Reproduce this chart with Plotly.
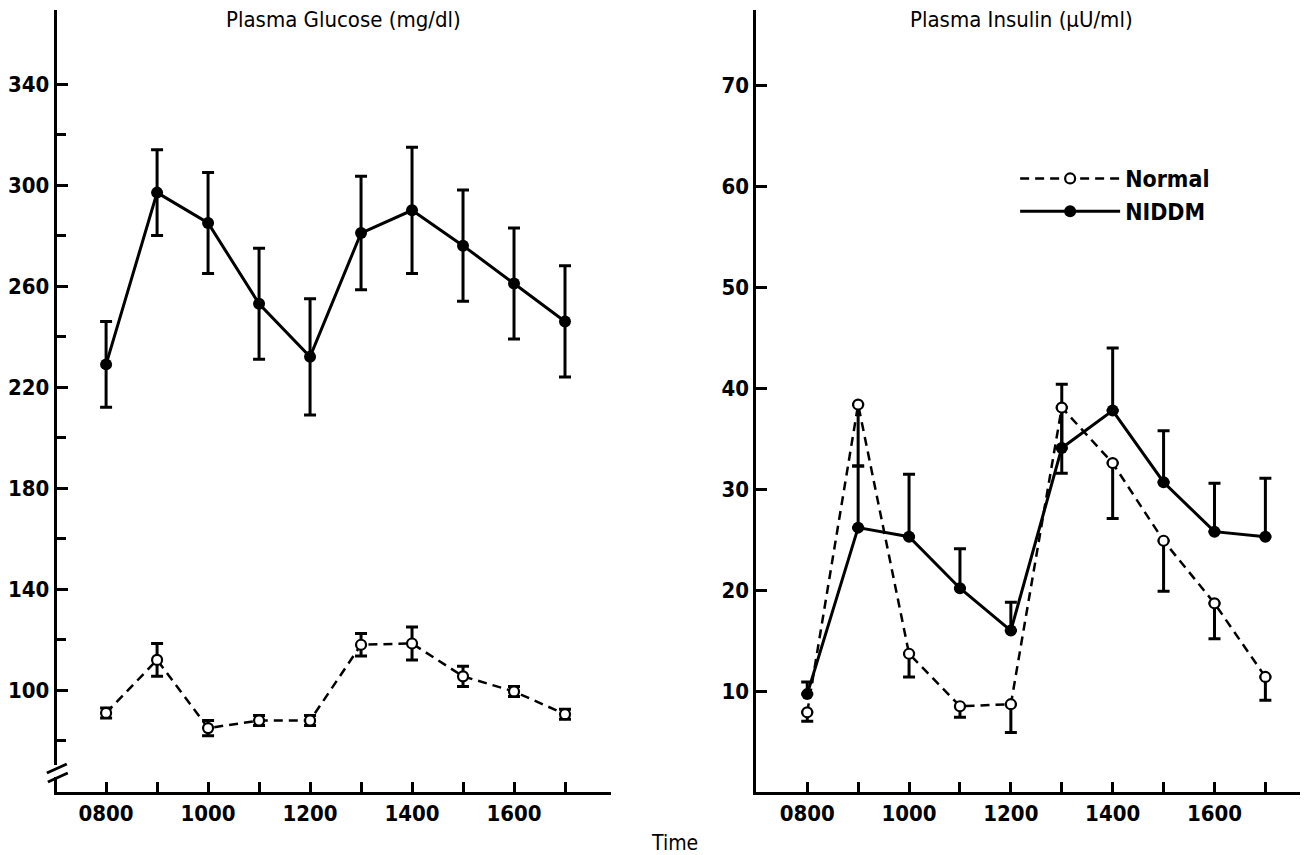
import plotly.graph_objects as go

# ---- data ----
times = [800, 900, 1000, 1100, 1200, 1300, 1400, 1500, 1600, 1700]
tick_hours = [800, 900, 1000, 1100, 1200, 1300, 1400, 1500, 1600, 1700]
tick_text = ["0800", "", "1000", "", "1200", "", "1400", "", "1600", ""]

glucose_niddm = [229, 297, 285, 253, 232, 281, 290, 276, 261, 246]
glucose_niddm_se = [17, 17, 20, 22, 23, 22.5, 25, 22, 22, 22]
glucose_normal = [91, 112, 85, 88, 88, 118, 118.5, 105.5, 99.5, 90.5]
glucose_normal_se = [2, 6.5, 3, 2, 2, 4.5, 6.5, 4, 2, 2]

insulin_normal = [7.9, 38.4, 13.7, 8.5, 8.7, 38.1, 32.6, 24.9, 18.7, 11.4]
insulin_normal_se = [0.9, 6.1, 2.3, 1.1, 2.8, 6.5, 5.5, 5.0, 3.5, 2.3]
insulin_niddm = [9.7, 26.2, 25.3, 20.2, 16.0, 34.1, 37.8, 30.7, 25.8, 25.3]
insulin_niddm_se = [1.2, 6.1, 6.2, 3.9, 2.8, 6.3, 6.2, 5.1, 4.8, 5.8]

glucose_ticks = [100, 140, 180, 220, 260, 300, 340]
glucose_minor = [80, 120, 160, 200, 240, 280, 320]
insulin_ticks = [10, 20, 30, 40, 50, 60, 70]

FONT = "Liberation Sans Narrow, Arial Narrow, DejaVu Sans Condensed, Liberation Sans, sans-serif"
# page body has an 8px default margin; lay out in screen pixels and shift
OFF = 8
W, H = 1308 - OFF, 855 - OFF


def px(x):
    return (x - OFF) / W


def py(y):
    return 1 - (y - OFF) / H


zeros = [0] * len(times)

fig = go.Figure()


def err(arr, arrm, sym):
    d = dict(type="data", array=arr, thickness=3, width=6, color="black", visible=True)
    if sym:
        d["symmetric"] = True
    else:
        d["symmetric"] = False
        d["arrayminus"] = arrm
    return d


# Glucose panel
fig.add_trace(go.Scatter(
    x=times, y=glucose_niddm, mode="lines+markers", name="NIDDM", showlegend=False,
    line=dict(color="black", width=3),
    marker=dict(symbol="circle", size=12, color="black"),
    error_y=err(glucose_niddm_se, None, True), xaxis="x", yaxis="y"))
fig.add_trace(go.Scatter(
    x=times, y=glucose_normal, mode="lines+markers", name="Normal", showlegend=False,
    line=dict(color="black", width=2.5, dash="9px,6px"),
    marker=dict(symbol="circle", size=10, color="white", line=dict(color="black", width=2.2)),
    error_y=err(glucose_normal_se, None, True), xaxis="x", yaxis="y"))

# Insulin panel
fig.add_trace(go.Scatter(
    x=times, y=insulin_niddm, mode="lines+markers", name="NIDDM", legendrank=2,
    line=dict(color="black", width=3),
    marker=dict(symbol="circle", size=12, color="black"),
    error_y=err(insulin_niddm_se, zeros, False), xaxis="x2", yaxis="y2"))
fig.add_trace(go.Scatter(
    x=times, y=insulin_normal, mode="lines+markers", name="Normal", legendrank=1,
    line=dict(color="black", width=2.5, dash="9px,6px"),
    marker=dict(symbol="circle", size=10, color="white", line=dict(color="black", width=2.2)),
    error_y=err(zeros, insulin_normal_se, False), xaxis="x2", yaxis="y2"))

ydom = [py(792), py(10)]
axis_common = dict(showline=True, linecolor="black", linewidth=3, showgrid=False, zeroline=False,
                   ticks="inside", tickcolor="black", tickwidth=3,
                   tickfont=dict(family=FONT, size=22, color="black", weight=600))

fig.update_layout(
    width=W, height=H, margin=dict(l=0, r=0, t=0, b=0),
    paper_bgcolor="white", plot_bgcolor="white",
    font=dict(family=FONT, color="black", size=22),
    xaxis=dict(domain=[px(51.8), px(608.2)], range=[703, 1790], tickmode="array",
               tickvals=tick_hours, ticktext=tick_text, ticklen=10, anchor="y", **axis_common),
    yaxis=dict(domain=ydom, range=[59.7, 369.3], tickmode="array", tickvals=glucose_ticks,
               ticklen=11, anchor="x",
               minor=dict(tickmode="array", tickvals=glucose_minor, ticks="inside", ticklen=9,
                          tickwidth=3, tickcolor="black"),
               **axis_common),
    xaxis2=dict(domain=[px(754.2), px(1301)], range=[700, 1770], tickmode="array",
                tickvals=tick_hours, ticktext=tick_text, ticklen=10, anchor="y2", **axis_common),
    yaxis2=dict(domain=ydom, range=[0, 77.5], tickmode="array", tickvals=insulin_ticks,
                ticklen=11, anchor="x2", **axis_common),
    showlegend=True,
    legend=dict(x=px(1014), y=py(157), xanchor="left", yanchor="top",
                bgcolor="rgba(0,0,0,0)", itemwidth=100, tracegroupgap=0,
                font=dict(family=FONT, size=23, color="black", weight=600)),
    annotations=[
        dict(text="Plasma Glucose (mg/dl)", x=px(340), y=py(20), xref="paper", yref="paper",
             xanchor="center", yanchor="middle", showarrow=False,
             font=dict(family=FONT, size=22, color="black")),
        dict(text="Plasma Insulin (\u03bcU/ml)", x=px(1020), y=py(20), xref="paper", yref="paper",
             xanchor="center", yanchor="middle", showarrow=False,
             font=dict(family=FONT, size=22, color="black")),
        dict(text="Time", x=px(672), y=py(843), xref="paper", yref="paper",
             xanchor="center", yanchor="middle", showarrow=False,
             font=dict(family=FONT, size=21, color="black")),
    ],
    shapes=[
        dict(type="rect", xref="paper", yref="paper", x0=px(47), x1=px(57),
             y0=py(777), y1=py(765), fillcolor="white", line=dict(width=0), layer="above"),
        dict(type="line", xref="paper", yref="paper", x0=px(42), y0=py(773),
             x1=px(62), y1=py(764), line=dict(color="black", width=3), layer="above"),
        dict(type="line", xref="paper", yref="paper", x0=px(43), y0=py(782),
             x1=px(63), y1=py(773), line=dict(color="black", width=3), layer="above"),
    ],
)

fig.write_html("out.html")
